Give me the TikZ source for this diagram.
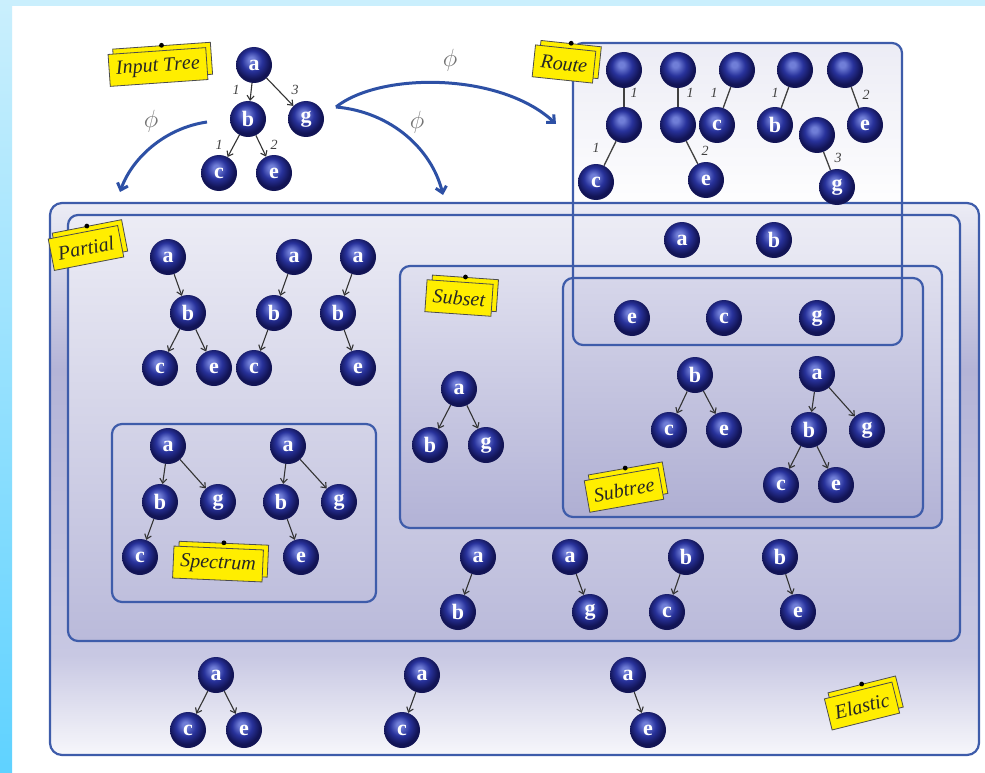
\documentclass[tikz,border=0pt]{standalone}
\usepackage{fontspec}
\setmainfont{Liberation Serif}
\usetikzlibrary{arrows.meta}

\definecolor{frameblue}{RGB}{62,92,170}
\definecolor{arrowblue}{RGB}{45,80,165}
\definecolor{tagyellow}{RGB}{255,238,0}
\definecolor{ballhi}{RGB}{112,126,215}
\definecolor{ballmid}{RGB}{40,50,155}
\definecolor{balldark}{RGB}{18,20,85}
\definecolor{lav}{RGB}{180,180,215}
\definecolor{lavlight}{RGB}{236,236,245}
\definecolor{ellow}{RGB}{200,200,227}
\definecolor{elbot}{RGB}{247,247,251}
\definecolor{subtop}{RGB}{224,224,239}
\definecolor{subbot}{RGB}{178,178,214}
\definecolor{treetop}{RGB}{214,214,234}
\definecolor{treebot}{RGB}{175,175,211}
\definecolor{skyA}{RGB}{202,239,253}
\definecolor{skyB}{RGB}{95,210,255}

% sphere look for the tree vertices
\pgfdeclareradialshading{navyball}{\pgfqpoint{-4bp}{8bp}}{%
  color(0bp)=(ballhi); color(4bp)=(ballhi); color(14bp)=(ballmid);
  color(24bp)=(balldark); color(50bp)=(balldark)}
% outer set: light top, lavender body, white bottom band
\pgfdeclareverticalshading{elasticfill}{100bp}{%
  color(0bp)=(elbot); color(25bp)=(elbot); color(34bp)=(ellow);
  color(60bp)=(lav); color(75bp)=(lavlight); color(100bp)=(lavlight)}

\tikzset{
  ball/.style={circle, minimum size=36pt, inner sep=0pt, shade, shading=navyball,
    text=white, font=\fontsize{22}{22}\selectfont\bfseries},
  link/.style={draw=black!80, line width=1.1pt, -{Straight Barb[length=4.5pt,width=7pt]}},
  plainlink/.style={draw=black!75, line width=1.3pt},
  weight/.style={font=\fontsize{14}{14}\selectfont\itshape, text=black!75},
  setbox/.style={draw=frameblue, line width=2.2pt, rounded corners=10pt},
  sheet/.style={draw=black!70, line width=0.8pt, fill=tagyellow, minimum height=32pt,
    inner xsep=7pt, font=\fontsize{20}{20}\selectfont\itshape\addfontfeature{Kerning=Off},
    text=black!85, transform shape},
  phiarrow/.style={draw=arrowblue, line width=3pt, -{Straight Barb[length=6pt,width=11pt]}},
  philabel/.style={font=\fontsize{34}{34}\selectfont, text=black!55},
}

% yellow tag: two stacked sheets with a pin on the back one
\newcommand\labeltag[5]{%
  \begin{scope}[shift={(#2,#3)}, rotate=#4]
    \node[sheet] (#1back) at (5,-5) {\phantom{#5}};
    \node[sheet] (#1) at (0,0) {#5};
    \fill[black] (#1back.north) circle (2.4pt);
  \end{scope}}

\begin{document}
\begin{tikzpicture}[x=1pt,y=-1pt]
\useasboundingbox (0,0) rectangle (985,773);
\fill[white] (0,0) rectangle (985,773);
\fill[skyA] (0,0) rectangle (985,6);
\shade[top color=skyA, bottom color=skyB] (0,0) rectangle (12,773);

% set regions
\shade[top color=lavlight, middle color=lav, bottom color=white, rounded corners=10pt]
  (573,43) rectangle (902,215);
\shade[shading=elasticfill, rounded corners=12pt] (50,203) rectangle (979,755);
\draw[setbox, rounded corners=12pt] (50,203) rectangle (979,755);
\shade[top color=lavlight, middle color=lav, bottom color=lav!92!white, rounded corners=10pt]
  (68,215) rectangle (960,641);
\draw[setbox] (68,215) rectangle (960,641);
\shade[top color=subtop, bottom color=subbot, rounded corners=10pt] (400,266) rectangle (942,528);
\draw[setbox] (400,266) rectangle (942,528);
\shade[top color=treetop, bottom color=treebot, rounded corners=10pt] (563,278) rectangle (923,517);
\draw[setbox] (563,278) rectangle (923,517);
\draw[setbox] (112,424) rectangle (376,602);
\draw[setbox] (573,43) rectangle (902,345);

% input tree
\node[ball] (ia) at (254,65) {a};
\node[ball] (ib) at (248,119) {b};
\node[ball] (ig) at (306,119) {g};
\node[ball] (ic) at (219,173) {c};
\node[ball] (ie) at (274,173) {e};
\draw[link] (ia) -- (ib);
\draw[link] (ia) -- (ig);
\draw[link] (ib) -- (ic);
\draw[link] (ib) -- (ie);
\node[weight] at (236,90) {1};
\node[weight] at (295,90) {3};
\node[weight] at (219,145) {1};
\node[weight] at (274,145) {2};

% routes
\node[ball] (r1t) at (624,70) {};
\node[ball] (r1m) at (624,125) {};
\node[ball] (r1c) at (596,182) {c};
\node[ball] (r2t) at (678,70) {};
\node[ball] (r2m) at (678,125) {};
\node[ball] (r2e) at (706,180) {e};
\node[ball] (r3t) at (737,70) {};
\node[ball] (r3c) at (717,125) {c};
\node[ball] (r4t) at (795,70) {};
\node[ball] (r4b) at (775,125) {b};
\node[ball] (r5t) at (845,70) {};
\node[ball] (r5e) at (865,125) {e};
\node[ball] (r6t) at (817,135) {};
\node[ball] (r6g) at (837,187) {g};
\draw[plainlink] (r1t) -- (r1m);
\draw[plainlink] (r1m) -- (r1c);
\draw[plainlink] (r2t) -- (r2m);
\draw[plainlink] (r2m) -- (r2e);
\draw[plainlink] (r3t) -- (r3c);
\draw[plainlink] (r4t) -- (r4b);
\draw[plainlink] (r5t) -- (r5e);
\draw[plainlink] (r6t) -- (r6g);
\node[weight] at (634,93) {1};
\node[weight] at (690,93) {1};
\node[weight] at (714,93) {1};
\node[weight] at (775,93) {1};
\node[weight] at (866,95) {2};
\node[weight] at (596,148) {1};
\node[weight] at (705,151) {2};
\node[weight] at (838,158) {3};

% single vertices
\node[ball] (sa) at (682,240) {a};
\node[ball] (sb) at (774,240) {b};
\node[ball] (se) at (632,318) {e};
\node[ball] (sc) at (724,318) {c};
\node[ball] (sg) at (817,318) {g};

% partial trees
\node[ball] (p1a) at (168,257) {a};
\node[ball] (p1b) at (188,313) {b};
\node[ball] (p1c) at (160,368) {c};
\node[ball] (p1e) at (214,368) {e};
\draw[link] (p1a) -- (p1b);
\draw[link] (p1b) -- (p1c);
\draw[link] (p1b) -- (p1e);
\node[ball] (p2a) at (294,257) {a};
\node[ball] (p2b) at (274,313) {b};
\node[ball] (p2c) at (254,368) {c};
\draw[link] (p2a) -- (p2b);
\draw[link] (p2b) -- (p2c);
\node[ball] (p3a) at (358,257) {a};
\node[ball] (p3b) at (338,313) {b};
\node[ball] (p3e) at (358,368) {e};
\draw[link] (p3a) -- (p3b);
\draw[link] (p3b) -- (p3e);

% spectrum
\node[ball] (s1a) at (168,446) {a};
\node[ball] (s1b) at (160,502) {b};
\node[ball] (s1g) at (218,502) {g};
\node[ball] (s1c) at (140,557) {c};
\draw[link] (s1a) -- (s1b);
\draw[link] (s1a) -- (s1g);
\draw[link] (s1b) -- (s1c);
\node[ball] (s2a) at (288,446) {a};
\node[ball] (s2b) at (281,502) {b};
\node[ball] (s2g) at (339,502) {g};
\node[ball] (s2e) at (301,557) {e};
\draw[link] (s2a) -- (s2b);
\draw[link] (s2a) -- (s2g);
\draw[link] (s2b) -- (s2e);

% single edges
\node[ball] (q1a) at (478,557) {a};
\node[ball] (q1b) at (458,612) {b};
\node[ball] (q2a) at (570,557) {a};
\node[ball] (q2g) at (590,612) {g};
\node[ball] (q3b) at (686,557) {b};
\node[ball] (q3c) at (667,612) {c};
\node[ball] (q4b) at (780,557) {b};
\node[ball] (q4e) at (798,612) {e};
\draw[link] (q1a) -- (q1b);
\draw[link] (q2a) -- (q2g);
\draw[link] (q3b) -- (q3c);
\draw[link] (q4b) -- (q4e);

% subset
\node[ball] (ua) at (459,389) {a};
\node[ball] (ub) at (430,445) {b};
\node[ball] (ug) at (486,445) {g};
\draw[link] (ua) -- (ub);
\draw[link] (ua) -- (ug);

% subtrees
\node[ball] (t1b) at (695,375) {b};
\node[ball] (t1c) at (669,430) {c};
\node[ball] (t1e) at (724,430) {e};
\draw[link] (t1b) -- (t1c);
\draw[link] (t1b) -- (t1e);
\node[ball] (t2a) at (817,374) {a};
\node[ball] (t2b) at (809,430) {b};
\node[ball] (t2g) at (867,430) {g};
\node[ball] (t2c) at (781,485) {c};
\node[ball] (t2e) at (836,485) {e};
\draw[link] (t2a) -- (t2b);
\draw[link] (t2a) -- (t2g);
\draw[link] (t2b) -- (t2c);
\draw[link] (t2b) -- (t2e);

% elastic
\node[ball] (e1a) at (216,675) {a};
\node[ball] (e1c) at (188,730) {c};
\node[ball] (e1e) at (244,730) {e};
\draw[link] (e1a) -- (e1c);
\draw[link] (e1a) -- (e1e);
\node[ball] (e2a) at (422,675) {a};
\node[ball] (e2c) at (402,730) {c};
\draw[link] (e2a) -- (e2c);
\node[ball] (e3a) at (628,675) {a};
\node[ball] (e3e) at (648,730) {e};
\draw[link] (e3a) -- (e3e);

% mapping arrows
\coordinate (fromL) at (207,122);
\coordinate (toL) at (120,192);
\coordinate (fromR) at (336,107);
\coordinate (toRoute) at (556,124);
\coordinate (toSets) at (443,195);
\draw[phiarrow] (fromL) .. controls (165,128) and (132,158) .. (toL);
\draw[phiarrow] (fromR) .. controls (380,72) and (500,72) .. (toRoute);
\draw[phiarrow] (fromR) .. controls (392,112) and (432,150) .. (toSets);
\node[philabel] (phiL) at (151,121) {$\phi$};
\node[philabel] (phiU) at (450,60) {$\phi$};
\node[philabel] (phiD) at (417,122) {$\phi$};

% tags
\labeltag{tagInput}{158}{67}{4}{Input Tree}
\labeltag{tagRoute}{564}{64}{-6}{Route}
\labeltag{tagPartial}{86}{248}{11}{Partial}
\labeltag{tagSubset}{459}{298}{-4}{Subset}
\labeltag{tagSubtree}{624}{490}{10}{Subtree}
\labeltag{tagSpectrum}{218}{564}{-2.5}{Spectrum}
\labeltag{tagElastic}{862}{706}{14}{Elastic}
\end{tikzpicture}
\end{document}
